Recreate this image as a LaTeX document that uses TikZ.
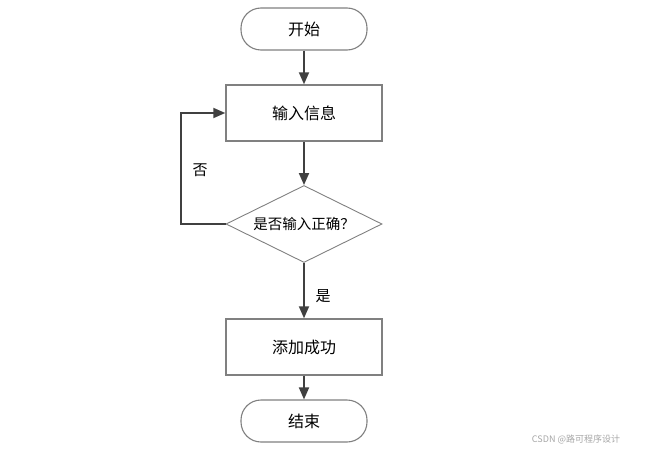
\documentclass[tikz,border=0pt]{standalone}
\usepackage{fontspec}
\setmainfont{Noto Sans CJK SC}
\usetikzlibrary{shapes.geometric,arrows.meta}
\definecolor{boxline}{HTML}{808080}
\definecolor{arrowline}{HTML}{404040}
\begin{document}
\begin{tikzpicture}[x=1pt,y=-1pt,
  every node/.style={font=\fontsize{16}{19}\selectfont, text=black},
  term/.style={draw=boxline, line width=1.1pt, rounded corners=20pt, minimum width=126pt, minimum height=42pt, inner sep=0pt},
  proc/.style={draw=boxline, line width=1.4pt, minimum width=156pt, minimum height=56pt, inner sep=0pt},
  decide/.style={draw=boxline, line width=0.9pt, diamond, aspect=2.0, minimum width=156pt, minimum height=77pt, inner sep=0pt, font=\fontsize{14.5}{17}\selectfont},
  flow/.style={draw=arrowline, line width=1.8pt, -{Triangle[length=12pt,width=10pt]}},
  lbl/.style={font=\fontsize{15}{18}\selectfont}
]
\useasboundingbox (0,0) rectangle (645,452);
\node[term] (start) at (304,29) {开始};
\node[proc] (input) at (304,113) {输入信息};
\node[decide] (check) at (304,224) {是否输入正确？};
\node[proc] (ok) at (304,347) {添加成功};
\node[term] (end) at (304,421) {结束};
\coordinate (lt) at (181,224);
\coordinate (lb) at (181,113);
\draw[flow] (start) -- (input);
\draw[flow] (input) -- (check);
\draw[flow] (check) -- (ok);
\draw[flow] (ok) -- (end);
\draw[flow] (check.west) -- (lt) -- (lb) -- (input.west);
\node[lbl] (no) at (200,170) {否};
\node[lbl] (yes) at (323,296) {是};
\node[font=\fontsize{9}{11}\selectfont, text=black!35] (wm) at (576,439) {CSDN @路可程序设计};
\end{tikzpicture}
\end{document}
